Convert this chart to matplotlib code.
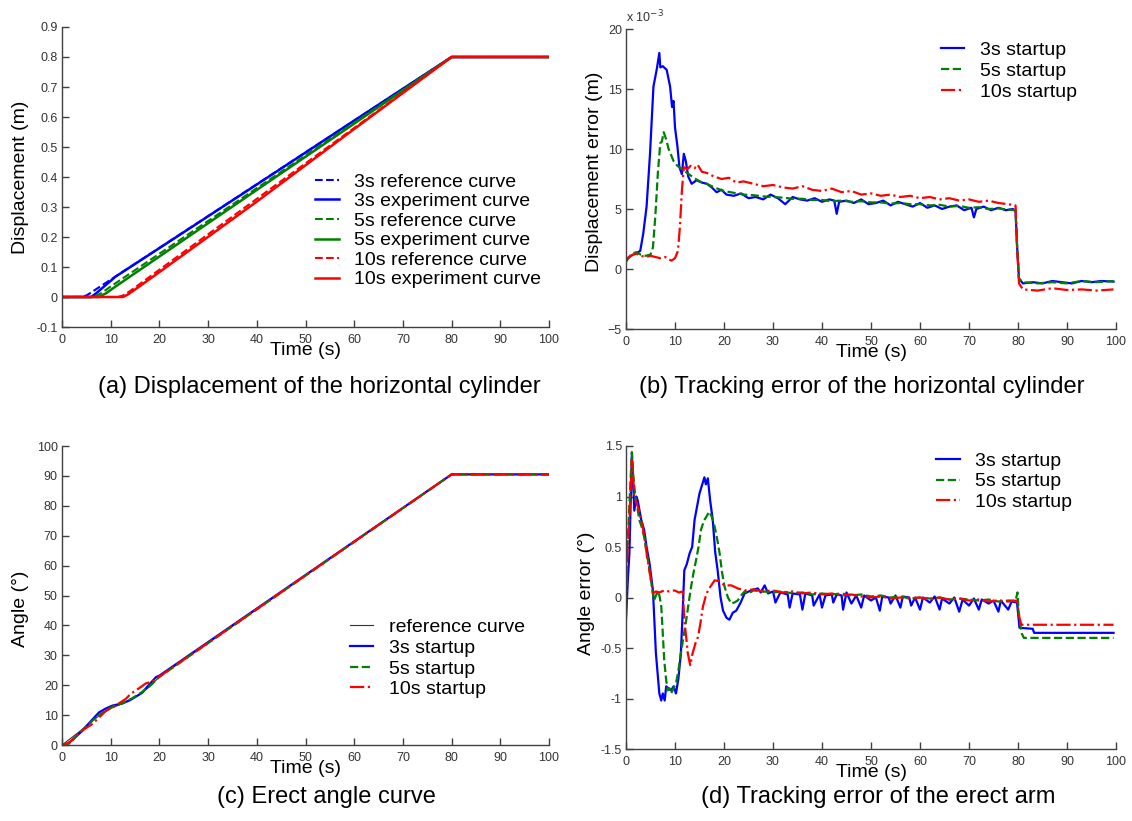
import matplotlib
matplotlib.use("Agg")
import matplotlib.pyplot as plt
import numpy as np

plt.rcParams['font.family'] = ['Liberation Sans', 'DejaVu Sans']

BLUE = '#0000ff'
GREEN = '#008000'
RED = '#ff0000'
AXC = '#404040'

# ---- (a) displacement of the horizontal cylinder, (t [s], y [m]) ----
a_ref3 = [(0, 0), (4, 0), (5, 0.005), (6, 0.015), (7, 0.026), (80, 0.8), (100, 0.8)]
a_exp3 = [(0, 0), (6, 0), (7, 0.012), (9, 0.04), (11, 0.068), (20, 0.163), (40, 0.375),
          (60, 0.588), (80, 0.8), (100, 0.8)]
a_ref5 = [(0, 0), (6.5, 0), (8, 0.012), (10, 0.035), (80, 0.8), (100, 0.8)]
a_exp5 = [(0, 0), (7.5, 0), (9, 0.012), (11, 0.035), (20, 0.135), (40, 0.357),
          (60, 0.578), (80, 0.8), (100, 0.8)]
a_ref10 = [(0, 0), (11.5, 0), (12.5, 0.005), (14, 0.02), (80, 0.8), (100, 0.8)]
a_exp10 = [(0, 0), (12.5, 0), (13.5, 0.008), (15, 0.025), (20, 0.083), (40, 0.318),
           (60, 0.56), (80, 0.8), (100, 0.8)]

# ---- (b) displacement tracking error, (t [s], e [x1e-3 m]) ----
b_3s = [(0, 0.8), (1, 1.1), (2, 1.3), (2.9, 1.5), (3.5, 2.9), (4.2, 5.2), (4.9, 9.6), (5.6, 15.2),
        (6.3, 16.7), (6.8, 18.0), (7.0, 16.8), (7.5, 16.9), (8.3, 16.6), (9.0, 15.2), (9.4, 13.5),
        (9.7, 14.0), (10.0, 11.8), (10.5, 10.2), (10.9, 8.5), (11.4, 7.9), (11.8, 9.6), (12.2, 9.0),
        (12.7, 7.7), (13.4, 7.1), (14.4, 7.4), (15.5, 7.2), (16.5, 7.1), (17.5, 6.8), (18.5, 6.4),
        (19.5, 6.6), (20.5, 6.2), (22, 6.1), (23.5, 6.3), (25, 5.9), (26.5, 6.0), (28, 5.8),
        (29.5, 6.2), (31, 5.9), (32.5, 5.4), (34, 6.0), (35.5, 5.8), (37, 5.7), (38.5, 5.9),
        (40, 5.6), (41.5, 5.8), (42.5, 5.7), (43, 4.6), (43.5, 5.6), (45, 5.7), (46.5, 5.5),
        (48, 5.8), (49.5, 5.4), (51, 5.5), (52.5, 5.7), (54, 5.3), (55.5, 5.6), (57, 5.4),
        (58.5, 5.2), (60, 5.5), (61.5, 5.1), (63, 5.3), (64.5, 5.0), (66, 5.2), (67.5, 5.3),
        (69, 4.9), (70.5, 5.1), (71, 4.3), (71.5, 5.0), (73, 5.2), (74.5, 4.9), (76, 5.1),
        (77.5, 4.9), (79, 5.0), (79.5, 4.8), (79.8, 2.0), (80.2, -0.8), (81, -1.2), (83, -1.1),
        (85, -1.2), (87, -1.0), (89, -1.1), (91, -1.2), (93, -1.0), (95, -1.1), (97, -1.0),
        (99.5, -1.05)]
b_5s = [(0, 0.6), (0.5, 0.9), (1, 1.2), (2, 1.4), (3, 1.2), (4, 1.1), (5, 1.2), (5.5, 1.8),
        (6, 4.5), (6.5, 8.0), (7.0, 10.5), (7.3, 10.6), (7.7, 11.4), (8.2, 10.8), (8.7, 10.0),
        (9.2, 9.5), (9.7, 9.0), (10.5, 8.6), (11.5, 8.3), (12.5, 8.0), (13.5, 7.7), (15, 7.3),
        (16.5, 7.1), (18, 6.8), (20, 6.5), (22, 6.35), (24, 6.2), (26, 6.15), (28, 6.05),
        (30, 6.0), (32, 5.95), (34, 5.85), (36, 5.85), (38, 5.75), (40, 5.75), (42, 5.65),
        (44, 5.7), (46, 5.6), (48, 5.65), (50, 5.55), (52, 5.55), (54, 5.45), (56, 5.5),
        (58, 5.4), (60, 5.4), (62, 5.3), (64, 5.35), (66, 5.2), (68, 5.25), (70, 5.1),
        (72, 5.15), (74, 5.0), (76, 5.05), (78, 4.95), (79.5, 4.9), (79.8, 2.0), (80.2, -0.8),
        (81, -1.1), (84, -1.2), (87, -1.1), (90, -1.2), (93, -1.0), (96, -1.1), (99.5, -1.0)]
b_10s = [(0, 0.8), (1, 1.1), (2, 1.3), (3, 1.1), (4, 1.0), (5, 1.1), (6, 1.0), (7, 0.9), (8, 1.0),
         (8.7, 0.8), (9.3, 0.7), (10, 0.9), (10.6, 1.5), (11.0, 3.5), (11.4, 6.5), (11.8, 8.5),
         (12.5, 8.3), (13.2, 8.6), (14, 8.4), (14.6, 8.7), (15.5, 8.1), (16.5, 8.0), (18, 7.7),
         (19.5, 7.5), (21, 7.6), (22.5, 7.2), (24, 7.3), (26, 7.1), (28, 6.9), (30, 7.0),
         (32, 6.8), (34, 6.7), (36, 6.9), (38, 6.6), (40, 6.5), (42, 6.7), (44, 6.4), (46, 6.5),
         (48, 6.2), (50, 6.3), (52, 6.1), (54, 6.2), (56, 6.0), (58, 6.1), (60, 5.9), (62, 6.0),
         (64, 5.8), (66, 5.9), (68, 5.7), (70, 5.8), (72, 5.6), (74, 5.7), (76, 5.5), (78, 5.4),
         (79.5, 5.3), (79.8, 2.0), (80.2, -1.2), (81, -1.7), (84, -1.8), (87, -1.6), (90, -1.75),
         (93, -1.7), (96, -1.8), (99.5, -1.7)]

# ---- (c) erect angle, (t [s], angle [deg]) ----
c_ref = [(0, 0), (2, 2.5), (4, 5), (6, 7.8), (8, 10.2), (10, 12.2), (12, 13.6), (14, 15.2),
         (16, 17), (18, 19.5), (20, 22.8), (80, 90.5), (100, 90.5)]
c_3s = [(0, 0), (1, 0.3), (2, 1.5), (4, 4.5), (6, 8.1), (7.6, 10.9), (9, 12.2), (10.4, 13.2),
        (12.4, 13.9), (14, 15), (15.2, 16.2), (16.5, 17.5), (17.5, 19.5), (19.3, 22.7),
        (20, 23.2), (80, 90.5), (100, 90.5)]
c_5s = [(0, 0), (1.5, 0.5), (3, 3), (5, 6.2), (7, 9.3), (9, 11.6), (10.5, 12.9), (12.5, 14),
        (14.5, 15.7), (16.5, 17.8), (18.5, 20.4), (20, 22.8), (80, 90.5), (100, 90.5)]
c_10s = [(0, 0), (1.5, 0.8), (3, 3.2), (4.5, 5.2), (6.2, 7.0), (7.5, 9.0), (9, 11.4), (11, 13.2),
         (13.1, 15.4), (14.1, 17.1), (16.2, 19.4), (17.2, 20.6), (18.5, 21.2), (20, 22.9),
         (80, 90.5), (100, 90.5)]

# ---- (d) angle tracking error, (t [s], e [deg]) ----
d_3s = [(0, -0.22), (0.4, 0.2), (0.7, 0.44), (1.2, 1.43), (1.7, 0.86), (2.1, 1.0), (2.4, 0.96),
        (2.8, 0.85), (3.1, 0.77), (3.7, 0.67), (4.2, 0.5), (4.8, 0.34), (5.5, 0.07), (6.1, -0.55),
        (6.8, -0.95), (7.2, -1.02), (7.5, -0.95), (7.9, -1.02), (8.2, -0.88), (8.7, -0.9),
        (9.2, -0.92), (9.7, -0.88), (10.2, -0.95), (10.7, -0.8), (11.2, -0.55), (11.6, -0.1),
        (11.9, 0.27), (12.4, 0.33), (13, 0.44), (13.5, 0.5), (14, 0.77), (15, 1.03), (16, 1.19),
        (16.3, 1.12), (16.7, 1.18), (17.2, 0.95), (17.7, 0.77), (18.2, 0.45), (18.7, 0.27),
        (19.3, 0.0), (19.8, -0.13), (20.5, -0.2), (21.1, -0.22), (21.8, -0.15), (22.5, -0.13),
        (23.4, -0.05), (24.2, 0.04), (25.5, 0.07), (26.9, 0.09), (27.5, 0.05), (28.3, 0.12),
        (29, 0.04), (30, 0.06), (30.5, -0.05), (31.5, 0.05), (33, 0.03), (33.4, -0.1), (34, 0.04),
        (35.5, 0.03), (36, -0.12), (36.6, 0.04), (38, 0.02), (38.3, -0.08), (39.5, 0.03),
        (40, -0.1), (40.7, 0.02), (42, 0.03), (42.3, -0.05), (43, 0.03), (44, 0.02), (44.3, -0.12),
        (45, 0.05), (46, -0.06), (47, 0.02), (48, -0.1), (48.6, 0.02), (50, -0.03), (51, 0.0),
        (51.8, -0.13), (52.3, 0.01), (53.6, 0.0), (54, -0.06), (55, 0.02), (56, -0.1), (56.5, 0.01),
        (57.8, 0.0), (58.2, -0.08), (59, 0.0), (60, -0.12), (60.6, 0.0), (62, -0.05), (63, 0.01),
        (64, -0.12), (64.5, -0.01), (66, -0.06), (67, 0.0), (68, -0.14), (68.7, -0.02),
        (70, -0.08), (71, -0.01), (72, -0.12), (72.6, -0.02), (74, -0.06), (75, -0.03),
        (76, -0.14), (76.5, -0.03), (78, -0.12), (78.7, -0.04), (79.8, -0.05), (80.3, -0.3),
        (83, -0.31), (83.3, -0.35), (99.5, -0.35)]
d_5s = [(0, 0.37), (0.4, 0.6), (0.7, 0.93), (1.2, 1.44), (1.5, 1.2), (1.9, 1.0), (2.3, 0.9),
        (2.7, 0.77), (3.2, 0.7), (3.7, 0.6), (4.2, 0.45), (4.8, 0.27), (5.3, 0.1), (5.7, -0.03),
        (6.2, 0.03), (6.6, 0.06), (6.9, 0.0), (7.2, -0.09), (7.5, -0.35), (7.8, -0.62),
        (8.2, -0.82), (8.5, -0.92), (8.9, -0.9), (9.2, -0.95), (9.7, -0.9), (10.2, -0.85),
        (10.7, -0.72), (11.2, -0.55), (11.7, -0.4), (12.3, -0.22), (12.8, -0.05), (13.3, 0.11),
        (13.8, 0.25), (14.3, 0.37), (14.8, 0.5), (15.3, 0.67), (15.9, 0.76), (16.4, 0.8),
        (17.0, 0.85), (17.5, 0.8), (18.1, 0.7), (18.6, 0.58), (19.1, 0.44), (19.6, 0.25),
        (20.1, 0.11), (20.8, 0.0), (21.5, -0.06), (22.1, -0.05), (22.8, -0.03), (23.5, 0.02),
        (24.2, 0.06), (25, 0.04), (26, 0.07), (28, 0.06), (30, 0.05), (32, 0.06), (34, 0.04),
        (36, 0.05), (38, 0.03), (40, 0.04), (42, 0.03), (44, 0.04), (46, 0.02), (48, 0.03),
        (50, 0.01), (52, 0.02), (54, 0.0), (56, 0.01), (58, -0.01), (60, 0.0), (62, -0.01),
        (64, 0.0), (66, -0.02), (68, -0.01), (70, -0.02), (72, -0.03), (74, -0.02), (76, -0.04),
        (78, -0.03), (79.5, -0.03), (79.9, 0.05), (80.2, -0.2), (80.8, -0.36), (81.2, -0.4),
        (99.5, -0.4)]
d_10s = [(0, -0.12), (0.3, 0.44), (0.8, 0.9), (1.2, 1.36), (1.7, 1.0), (2.4, 0.9), (2.9, 0.82),
         (3.4, 0.7), (3.9, 0.55), (4.4, 0.37), (5.0, 0.2), (5.5, 0.04), (6.1, 0.06), (6.8, 0.05),
         (7.8, 0.07), (8.8, 0.06), (9.9, 0.07), (10.8, 0.05), (11.6, 0.06), (11.9, -0.22),
         (12.3, -0.4), (12.6, -0.55), (13.1, -0.67), (13.6, -0.55), (14.2, -0.45), (14.7, -0.39),
         (15.2, -0.25), (15.7, -0.09), (16.2, 0.0), (16.7, 0.07), (17.4, 0.12), (18.1, 0.17),
         (19.1, 0.16), (20.1, 0.12), (21.5, 0.12), (22.8, 0.09), (24.2, 0.07), (26, 0.08),
         (28, 0.06), (30, 0.07), (32, 0.05), (34, 0.06), (36, 0.04), (38, 0.05), (40, 0.03),
         (42, 0.04), (44, 0.02), (46, 0.03), (48, 0.01), (50, 0.0), (52, 0.01), (54, -0.01),
         (56, 0.0), (58, -0.01), (60, 0.0), (62, -0.02), (64, 0.0), (66, -0.02), (68, -0.01),
         (70, -0.03), (72, -0.02), (74, -0.04), (76, -0.03), (78, -0.04), (79.8, -0.03),
         (80.3, -0.2), (80.7, -0.27), (99.5, -0.27)]


def xy(pairs):
    arr = np.array(pairs, dtype=float)
    return arr[:, 0], arr[:, 1]


def style_axes(ax, ylim, yticks, ylabel, ylab_pos):
    ax.set_xlim(0, 100)
    ax.set_ylim(*ylim)
    ax.set_xticks(np.arange(0, 101, 10))
    ax.set_yticks(yticks)
    for s in ['top', 'right']:
        ax.spines[s].set_visible(False)
    for s in ['left', 'bottom']:
        ax.spines[s].set_color(AXC)
        ax.spines[s].set_linewidth(1.0)
    ax.tick_params(direction='in', length=5, width=1, color=AXC, labelcolor='#333333',
                   labelsize=9)
    ax.tick_params(axis='x', pad=5)
    ax.tick_params(axis='y', pad=3)
    ax.set_xlabel('Time (s)', fontsize=14)
    ax.xaxis.set_label_coords(0.5, -0.077)
    ax.xaxis.label.set_va('center')
    ax.set_ylabel(ylabel, fontsize=14)
    ax.yaxis.set_label_coords(*ylab_pos)
    ax.yaxis.label.set_va('center')


def add_legend(ax, anchor, spacing):
    ax.legend(loc='upper left', bbox_to_anchor=anchor, frameon=False, fontsize=14,
              handlelength=1.2, handletextpad=0.8, labelspacing=spacing,
              borderpad=0, borderaxespad=0)


fig = plt.figure(figsize=(11.32, 8.21), dpi=100)
W, H = 1132.0, 821.0


def make_axes(x0, x1, ytop, ybot):
    return fig.add_axes([x0 / W, 1 - ybot / H, (x1 - x0) / W, (ybot - ytop) / H])


axa = make_axes(62, 549, 27, 327)
axb = make_axes(626, 1116, 29, 329)
axc = make_axes(62, 549, 446, 745)
axd = make_axes(626, 1116, 446, 749)

# (a)
axa.plot(*xy(a_ref3), '--', color=BLUE, lw=1.5, label='3s reference curve')
axa.plot(*xy(a_exp3), '-', color=BLUE, lw=1.8, label='3s experiment curve')
axa.plot(*xy(a_ref5), '--', color=GREEN, lw=1.5, label='5s reference curve')
axa.plot(*xy(a_exp5), '-', color=GREEN, lw=1.8, label='5s experiment curve')
axa.plot(*xy(a_ref10), '--', color=RED, lw=1.5, label='10s reference curve')
axa.plot(*xy(a_exp10), '-', color=RED, lw=1.8, label='10s experiment curve')
style_axes(axa, (-0.1, 0.9), np.round(np.arange(-0.1, 0.91, 0.1), 1), 'Displacement (m)',
           (-0.085, 0.5))
axa.set_yticklabels(['-0.1', '0', '0.1', '0.2', '0.3', '0.4', '0.5', '0.6', '0.7', '0.8', '0.9'])
add_legend(axa, (0.52, 0.513), 0.1)

# (b)
axb.plot(*xy(b_3s), '-', color=BLUE, lw=1.6, label='3s startup')
axb.plot(*xy(b_5s), '--', color=GREEN, lw=1.6, label='5s startup')
axb.plot(*xy(b_10s), '-.', color=RED, lw=1.6, label='10s startup')
style_axes(axb, (-5, 20), np.arange(-5, 21, 5), 'Displacement error (m)', (-0.065, 0.523))
axb.text(0, 1.04, r'x 10$^{-3}$', transform=axb.transAxes, fontsize=9, color='#333333',
         va='center', ha='left')
add_legend(axb, (0.643, 0.96), 0.18)

# (c)
axc.plot(*xy(c_ref), '-', color='#333333', lw=0.8, label='reference curve')
axc.plot(*xy(c_3s), '-', color=BLUE, lw=1.6, label='3s startup')
axc.plot(*xy(c_5s), '--', color=GREEN, lw=1.6, label='5s startup')
axc.plot(*xy(c_10s), '-.', color=RED, lw=1.6, label='10s startup')
style_axes(axc, (0, 100), np.arange(0, 101, 10), 'Angle (°)', (-0.086, 0.456))
add_legend(axc, (0.591, 0.423), 0.16)

# (d)
axd.plot(*xy(d_3s), '-', color=BLUE, lw=1.6, label='3s startup')
axd.plot(*xy(d_5s), '--', color=GREEN, lw=1.6, label='5s startup')
axd.plot(*xy(d_10s), '-.', color=RED, lw=1.6, label='10s startup')
style_axes(axd, (-1.5, 1.5), [-1.5, -1, -0.5, 0, 0.5, 1, 1.5], 'Angle error (°)',
           (-0.08, 0.515))
axd.set_yticklabels(['-1.5', '-1', '-0.5', '0', '0.5', '1', '1.5'])
add_legend(axd, (0.633, 0.98), 0.16)

# captions
fig.text(319 / W, 1 - 387 / H, '(a) Displacement of the horizontal cylinder', fontsize=17,
         ha='center', va='center')
fig.text(862 / W, 1 - 387 / H, '(b) Tracking error of the horizontal cylinder', fontsize=17,
         ha='center', va='center')
fig.text(326 / W, 1 - 797 / H, '(c) Erect angle curve', fontsize=17, ha='center', va='center')
fig.text(878 / W, 1 - 797 / H, '(d) Tracking error of the erect arm', fontsize=17,
         ha='center', va='center')

fig.savefig('out.png', dpi=100)
